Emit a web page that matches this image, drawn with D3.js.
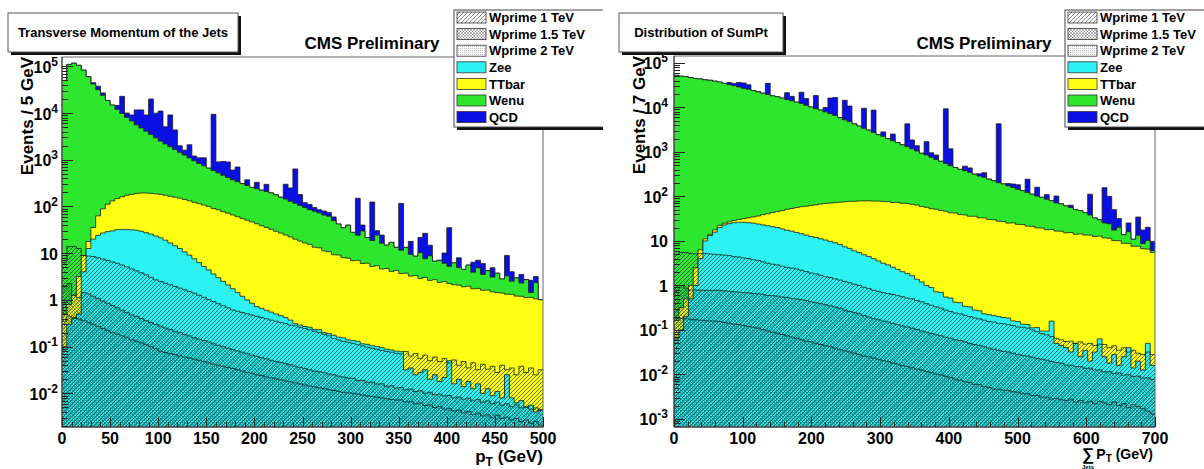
<!DOCTYPE html>
<html>
<head>
<meta charset="utf-8">
<script src="https://cdn.jsdelivr.net/npm/d3@7"></script>
<style>
  body { margin: 0; background: #fff; }
  svg text { font-family: "Liberation Sans", Arial, Helvetica, sans-serif; font-weight: bold; fill: #000; }
</style>
</head>
<body>
<svg id="chart" width="1204" height="469"></svg>
<script>
// ---------- left pad: jet pT, 100 bins of 5 GeV ----------
const jetsZee = [
  0.1, 0.3, 0.4, 0.5, 4, 12.6, 20, 24, 27, 29,
  30, 32, 32, 32, 31.6, 31, 29.5, 27.5, 25.7, 23.4,
  21.4, 19, 16.6, 14.5, 12.6, 10.7, 9.1, 7.6, 6.3, 5.2,
  4.4, 3.6, 3.0, 2.5, 2.1, 1.74, 1.45, 1.2, 1.0, 0.85,
  0.72, 0.66, 0.6, 0.55, 0.5, 0.46, 0.42, 0.37, 0.31, 0.29,
  0.27, 0.26, 0.235, 0.23, 0.2, 0.19, 0.175, 0.16, 0.155, 0.14,
  0.135, 0.13, 0.115, 0.112, 0.105, 0.1, 0.095, 0.088, 0.085, 0.08,
  0.078, 0.032, 0.035, 0.025, 0.028, 0.032, 0.02, 0.025, 0.018, 0.022,
  0.05, 0.016, 0.02, 0.014, 0.018, 0.0126, 0.016, 0.01, 0.0126, 0.0089,
  0.011, 0.008, 0.025, 0.008, 0.0063, 0.007, 0.005, 0.0056, 0.004, 0.0045
];
const jetsTTbar = [
  0.4, 0.5, 0.86, 2.7, 4.9, 5.2, 15.5, 39, 62, 83,
  102, 116, 130, 142, 150, 159, 165, 167, 165, 163,
  160, 155, 149, 144, 138, 130, 123, 115, 109, 102,
  96, 87, 82, 75, 70, 64, 59, 54, 50, 46,
  42, 38, 35, 32, 29, 26.5, 24, 22, 19.7, 17.9,
  16.3, 15.2, 13.2, 12.8, 11.0, 10.6, 9.1, 9.0, 7.9, 7.7,
  6.8, 6.9, 5.9, 6.0, 5.1, 5.3, 4.5, 4.6, 4.0, 4.2,
  3.6, 3.7, 3.2, 3.3, 2.85, 3.0, 2.6, 2.7, 2.35, 2.45,
  2.2, 2.1, 2.05, 1.9, 1.95, 1.72, 1.75, 1.6, 1.62, 1.48,
  1.42, 1.4, 1.3, 1.31, 1.2, 1.19, 1.12, 1.13, 1.05, 1.0
];
const jetsWenu = [
  50000, 110000, 117000, 105000, 83000, 60000, 41700, 31500, 23900, 18500,
  14700, 11850, 9640, 7930, 6620, 5410, 4600, 3900, 3280, 2760,
  2330, 2015, 1740, 1500, 1295, 1120, 965, 830, 717, 634,
  561, 498, 440, 390, 345, 306, 279, 254, 231, 210,
  197, 185, 173, 163, 148, 131, 120, 107, 97, 87,
  79, 70, 66, 60, 54.5, 51, 40.5, 33, 27, 32,
  21, 17.3, 24, 15.5, 13.5, 19, 11.8, 10.2, 13, 9.1,
  7.9, 9.6, 6.2, 5.3, 7.4, 4.6, 6.2, 4.0, 4.7, 3.6,
  3.0, 4.1, 2.9, 2.6, 3.6, 2.2, 3.1, 1.9, 2.6, 1.6,
  2.3, 1.4, 1.95, 1.2, 1.76, 1.1, 1.6, 0.3, 1.3, 0
];
const jetsQCD = [
  0, 0, 0, 0, 0, 0, 3000, 6000, 3000, 0,
  0, 2500, 13000, 1900, 2300, 6100, 6900, 5000, 16500, 7000,
  8500, 2900, 7200, 2700, 550, 340, 1000, 250, 270, 360,
  0, 8800, 375, 450, 480, 230, 360, 0, 90, 0,
  90, 0, 90, 0, 0, 0, 155, 120, 520, 75,
  25, 25, 16, 12, 14, 13, 10, 0, 0, 0,
  0, 126, 10, 0, 106, 6, 8, 0, 0, 0,
  105, 0, 8.5, 0, 11.5, 19, 6, 0, 0, 4,
  30, 0, 3, 0, 0, 2.5, 2.2, 2.5, 0, 1.8,
  0, 0, 5.7, 1.5, 0, 1.2, 0, 1.2, 0.8, 0
];
const jetsW1 = [
  6.3, 14, 14, 12.6, 8.9, 8.7, 8.5, 8.0, 7.5, 7.0,
  6.5, 6.1, 5.6, 5.1, 4.6, 4.2, 3.8, 3.45, 3.05, 2.7,
  2.49, 2.29, 2.11, 1.94, 1.79, 1.65, 1.52, 1.4, 1.26, 1.14,
  1.02, 0.92, 0.83, 0.75, 0.68, 0.61, 0.575, 0.54, 0.505, 0.475,
  0.445, 0.42, 0.395, 0.37, 0.35, 0.33, 0.31, 0.29, 0.28, 0.26,
  0.245, 0.23, 0.215, 0.2, 0.185, 0.17, 0.15, 0.14, 0.13, 0.125,
  0.118, 0.11, 0.104, 0.098, 0.093, 0.088, 0.083, 0.079, 0.076, 0.072,
  0.07, 0.079, 0.063, 0.071, 0.056, 0.066, 0.05, 0.06, 0.048, 0.056,
  0.045, 0.052, 0.04, 0.048, 0.035, 0.045, 0.032, 0.042, 0.033, 0.038,
  0.028, 0.04, 0.032, 0.035, 0.025, 0.038, 0.028, 0.035, 0.025, 0.032
];
const jetsW15 = [
  2.0, 2.24, 1.26, 1.12, 1.45, 1.35, 1.2, 1.07, 0.95, 0.85,
  0.76, 0.68, 0.6, 0.54, 0.48, 0.44, 0.4, 0.36, 0.33, 0.3,
  0.275, 0.25, 0.234, 0.214, 0.2, 0.182, 0.17, 0.155, 0.145, 0.135,
  0.126, 0.115, 0.107, 0.1, 0.093, 0.087, 0.081, 0.076, 0.071, 0.066,
  0.062, 0.058, 0.055, 0.051, 0.048, 0.046, 0.043, 0.041, 0.038, 0.036,
  0.034, 0.032, 0.03, 0.029, 0.0275, 0.026, 0.025, 0.0235, 0.0224, 0.0214,
  0.021, 0.0188, 0.019, 0.0172, 0.0175, 0.0158, 0.016, 0.0142, 0.0145, 0.013,
  0.0133, 0.0119, 0.0124, 0.011, 0.0114, 0.0101, 0.0106, 0.0094, 0.0096, 0.0088,
  0.009, 0.008, 0.0084, 0.0075, 0.0079, 0.0069, 0.0074, 0.0065, 0.0069, 0.006,
  0.0065, 0.0056, 0.006, 0.0052, 0.0057, 0.0049, 0.0052, 0.0046, 0.0049, 0.0043
];
const jetsW2 = [
  0.35, 0.45, 0.42, 0.39, 0.36, 0.33, 0.3, 0.27, 0.245, 0.22,
  0.2, 0.185, 0.17, 0.155, 0.14, 0.13, 0.12, 0.11, 0.1, 0.09,
  0.08, 0.075, 0.071, 0.067, 0.063, 0.06, 0.057, 0.054, 0.051, 0.048,
  0.045, 0.042, 0.04, 0.038, 0.036, 0.034, 0.032, 0.03, 0.028, 0.027,
  0.025, 0.024, 0.0225, 0.0215, 0.0205, 0.0195, 0.0185, 0.0176, 0.0167, 0.0159,
  0.0151, 0.0144, 0.0138, 0.0132, 0.0126, 0.012, 0.0115, 0.011, 0.0105, 0.0102,
  0.01, 0.0096, 0.0092, 0.0089, 0.0086, 0.0083, 0.008, 0.0077, 0.0074, 0.0072,
  0.0072, 0.0066, 0.0067, 0.006, 0.0062, 0.0055, 0.0057, 0.005, 0.0052, 0.0046,
  0.0047, 0.0042, 0.0044, 0.0038, 0.0041, 0.0035, 0.0038, 0.0033, 0.0035, 0.003,
  0.0034, 0.0029, 0.0031, 0.0027, 0.0029, 0.0025, 0.0027, 0.0023, 0.0025, 0.0021
];

// ---------- right pad: sum of jet pT, 100 bins of 7 GeV ----------
const sumZee = [
  0.063, 0.1, 0.2, 0.5, 1.0, 4.0, 10, 13.2, 15.8, 20,
  22.9, 24.5, 25.7, 26.3, 26.3, 25.7, 25.1, 24, 22.9, 21.9,
  20.9, 20, 18.6, 17.4, 16.6, 15.5, 14.5, 13.5, 12.6, 12,
  11.2, 10.5, 9.8, 9.1, 8.3, 7.4, 6.8, 6.0, 5.5, 4.9,
  4.5, 4.0, 3.55, 3.16, 2.9, 2.57, 2.3, 2.04, 1.86, 1.66,
  1.38, 1.2, 1.0, 0.9, 0.72, 0.7, 0.55, 0.52, 0.42, 0.41,
  0.34, 0.33, 0.28, 0.27, 0.23, 0.22, 0.21, 0.2, 0.19, 0.185,
  0.16, 0.155, 0.135, 0.132, 0.112, 0.113, 0.095, 0.094, 0.158, 0.05,
  0.045, 0.04, 0.032, 0.05, 0.025, 0.035, 0.02, 0.032, 0.063, 0.025,
  0.018, 0.028, 0.016, 0.025, 0.04, 0.014, 0.02, 0.0126, 0.05, 0.016
];
const sumTTbar = [
  0.1, 0.22, 0.3, 0.5, 1.5, 2.3, 1.2, 0.9, 2.0, 2.4,
  2.2, 2.4, 3.1, 3.9, 5.3, 7.4, 9.6, 12.3, 16, 18.8,
  22.8, 25.7, 29.3, 33.9, 37.1, 40.7, 44.4, 46.8, 50.5, 52.6,
  56.4, 58.7, 61, 63.3, 65.8, 68.5, 70.8, 71.6, 73.9, 74.5,
  75.5, 74.5, 75, 73.5, 73.5, 70.5, 71, 68, 68, 65,
  62.5, 58, 56, 52, 51, 47.5, 46, 42.5, 42, 38.8,
  38, 35.5, 35.7, 33, 32.8, 30.2, 29.8, 27.5, 27.2, 25,
  25.3, 23.4, 23.2, 21.4, 21.2, 19.5, 19.4, 17.8, 17.9, 16.6,
  16.5, 15.2, 15.4, 14.1, 14.4, 13.5, 13.5, 12.6, 12.8, 11.7,
  11.5, 10.2, 10.1, 8.8, 8.8, 7.6, 7.6, 6.7, 6.5, 5.5
];
const sumWenu = [
  52500, 50100, 49000, 46800, 44700, 43690, 41690, 40690, 38880, 37180,
  34670, 32370, 30870, 28770, 26870, 25670, 23970, 22360, 20860, 19460,
  18160, 17350, 16150, 15050, 14050, 13140, 12240, 11140, 10140, 9265,
  8640, 7870, 7170, 6540, 5815, 5175, 4710, 4190, 3720, 3310,
  3010, 2670, 2370, 2160, 1920, 1710, 1550, 1380, 1250, 1107,
  987, 873, 795, 705, 625, 568, 504, 446, 405, 367,
  342, 311, 281, 254, 237, 214, 195, 176, 164, 148,
  133, 121, 112, 101, 91, 82, 76, 69, 62, 55,
  51.4, 46.2, 41.1, 36.8, 33.8, 29.9, 24.8, 20.2, 16.9, 13.7,
  12.8, 7.3, 10.2, 5.0, 7.3, 3.3, 5.8, 2.0, 3.7, 0.55
];
const sumQCD = [
  0, 0, 0, 0, 0, 0, 0, 0, 0, 0,
  0, 3950, 3770, 7460, 8550, 6660, 0, 0, 0, 15200,
  0, 0, 0, 6240, 3650, 0, 9570, 4630, 0, 9280,
  0, 2060, 8970, 9990, 0, 9200, 5930, 0, 0, 6160,
  0, 5950, 0, 580, 0, 735, 0, 0, 2950, 690,
  330, 0, 850, 200, 175, 0, 8750, 685, 0, 0,
  98, 90, 0, 35, 70, 0, 0, 4070, 0, 21,
  32, 38, 0, 122, 0, 60, 0, 23, 0, 30,
  0, 0, 7, 0, 0, 0, 74, 0, 0, 132,
  76, 33, 11.6, 0, 9.2, 0, 21, 8.9, 10, 3.7
];
const sumW1 = [
  5.0, 5.5, 5.5, 5.25, 5.1, 5.25, 5.25, 5.1, 5.0, 4.9,
  4.8, 4.7, 4.45, 4.35, 4.15, 4.0, 3.8, 3.65, 3.4, 3.16,
  3.0, 2.9, 2.7, 2.55, 2.45, 2.35, 2.2, 2.05, 1.9, 1.82,
  1.7, 1.58, 1.51, 1.41, 1.32, 1.23, 1.15, 1.07, 1.0, 0.91,
  0.85, 0.78, 0.74, 0.69, 0.66, 0.63, 0.59, 0.56, 0.52, 0.5,
  0.46, 0.43, 0.39, 0.36, 0.33, 0.31, 0.28, 0.26, 0.24, 0.23,
  0.214, 0.2, 0.186, 0.178, 0.166, 0.155, 0.151, 0.141, 0.138, 0.132,
  0.126, 0.117, 0.115, 0.11, 0.1, 0.091, 0.083, 0.078, 0.071, 0.065,
  0.06, 0.055, 0.056, 0.05, 0.054, 0.048, 0.05, 0.045, 0.048, 0.047,
  0.04, 0.044, 0.035, 0.04, 0.032, 0.035, 0.03, 0.028, 0.032, 0.028
];
const sumW15 = [
  1.0, 1.0, 0.87, 0.79, 0.79, 0.79, 0.78, 0.78, 0.78, 0.78,
  0.76, 0.74, 0.72, 0.71, 0.69, 0.68, 0.66, 0.65, 0.63, 0.6,
  0.59, 0.575, 0.55, 0.54, 0.51, 0.5, 0.48, 0.46, 0.43, 0.41,
  0.39, 0.37, 0.35, 0.33, 0.31, 0.28, 0.26, 0.245, 0.23, 0.21,
  0.195, 0.18, 0.17, 0.158, 0.151, 0.141, 0.132, 0.123, 0.117, 0.11,
  0.102, 0.095, 0.089, 0.083, 0.078, 0.074, 0.069, 0.065, 0.06, 0.058,
  0.054, 0.05, 0.047, 0.045, 0.042, 0.039, 0.037, 0.035, 0.033, 0.032,
  0.03, 0.028, 0.027, 0.026, 0.0245, 0.023, 0.022, 0.021, 0.0195, 0.0186,
  0.018, 0.0163, 0.0162, 0.015, 0.0152, 0.0138, 0.0139, 0.0126, 0.0127, 0.0114,
  0.0116, 0.0106, 0.0109, 0.0097, 0.0099, 0.009, 0.0092, 0.0083, 0.0084, 0.0077
];
const sumW2 = [
  0.178, 0.182, 0.178, 0.174, 0.17, 0.166, 0.162, 0.158, 0.158, 0.155,
  0.148, 0.141, 0.135, 0.132, 0.126, 0.12, 0.115, 0.11, 0.102, 0.095,
  0.089, 0.085, 0.079, 0.074, 0.069, 0.065, 0.06, 0.056, 0.054, 0.05,
  0.047, 0.044, 0.042, 0.039, 0.036, 0.034, 0.032, 0.03, 0.028, 0.026,
  0.025, 0.0234, 0.0219, 0.0204, 0.0195, 0.0182, 0.017, 0.0158, 0.0151, 0.0141,
  0.0132, 0.0126, 0.0117, 0.011, 0.0102, 0.0098, 0.0091, 0.0085, 0.0079, 0.0074,
  0.0069, 0.0066, 0.006, 0.0059, 0.0053, 0.0051, 0.0047, 0.0047, 0.0044, 0.0044,
  0.0041, 0.004, 0.0037, 0.0037, 0.0034, 0.0034, 0.0031, 0.0031, 0.0028, 0.0029,
  0.0027, 0.0026, 0.0028, 0.0024, 0.0026, 0.0023, 0.0025, 0.0022, 0.0025, 0.0023,
  0.0021, 0.0024, 0.002, 0.0022, 0.0018, 0.0021, 0.0019, 0.0017, 0.0015, 0.0013
];

// ---------- axes and legend text ----------
const jetsXTicks = [0, 50, 100, 150, 200, 250, 300, 350, 400, 450, 500];
const sumXTicks = [0, 100, 200, 300, 400, 500, 600, 700];
const jetsYTicks = [1e-2, 1e-1, 1, 10, 1e2, 1e3, 1e4, 1e5];
const sumYTicks = [1e-3, 1e-2, 1e-1, 1, 10, 1e2, 1e3, 1e4, 1e5];
const legendLabels = ["Wprime 1 TeV", "Wprime 1.5 TeV", "Wprime 2 TeV", "Zee", "TTbar", "Wenu", "QCD"];

const stackKeys = ["zee", "ttbar", "wenu", "qcd"];
const stackColors = { zee: "#2cf2f2", ttbar: "#ffff12", wenu: "#2ee62e", qcd: "#0a10e2" };

const svg = d3.select("#chart");
const defs = svg.append("defs");

// hatch styles that stand in for the ROOT fill patterns
function makePattern(id, size, build) {
  const pat = defs.append("pattern").attr("id", id)
    .attr("patternUnits", "userSpaceOnUse").attr("width", size).attr("height", size);
  build(pat);
}
makePattern("fill-diag", 4, pat => pat.append("path").attr("d", "M-1,1 L1,-1 M0,4 L4,0 M3,5 L5,3")
  .attr("stroke", "#0a2222").attr("stroke-width", 0.6));
makePattern("fill-cross", 3, pat => pat.append("path").attr("d", "M0,0 L3,3 M3,0 L0,3")
  .attr("stroke", "#004848").attr("stroke-width", 0.45).attr("stroke-opacity", 0.75));
makePattern("fill-dots", 2, pat => pat.append("rect").attr("width", 1).attr("height", 1)
  .attr("fill", "#003838").attr("opacity", 0.25));
// legend swatches use neutral greys
makePattern("leg-diag", 4, pat => pat.append("path").attr("d", "M-1,1 L1,-1 M0,4 L4,0 M3,5 L5,3")
  .attr("stroke", "#333").attr("stroke-width", 0.6));
makePattern("leg-cross", 3, pat => pat.append("path").attr("d", "M0,0 L3,3 M3,0 L0,3")
  .attr("stroke", "#333").attr("stroke-width", 0.45).attr("stroke-opacity", 0.8));
makePattern("leg-dots", 2, pat => pat.append("rect").attr("width", 1).attr("height", 1)
  .attr("fill", "#333").attr("opacity", 0.35));

const overlayFills = ["url(#fill-diag)", "url(#fill-cross)", "url(#fill-dots)"];
const legendFills = ["url(#leg-diag)", "url(#leg-cross)", "url(#leg-dots)",
  stackColors.zee, stackColors.ttbar, stackColors.wenu, stackColors.qcd];

function supLabel(sel, v) {
  const e = Math.round(Math.log10(v));
  if (e === 0) { sel.text("1"); return; }
  if (e === 1) { sel.text("10"); return; }
  sel.append("tspan").text("10");
  sel.append("tspan").attr("dy", -7).attr("font-size", 12).text(e);
}

function drawPanel(p) {
  const g = svg.append("g");
  defs.append("clipPath").attr("id", "pad-" + p.id)
    .append("rect").attr("x", p.padX0).attr("y", 0).attr("width", p.padX1 - p.padX0).attr("height", 469);
  g.attr("clip-path", `url(#pad-${p.id})`);

  const x = d3.scaleLinear().domain([0, p.xMax]).range([p.left, p.right]);
  const y = d3.scaleLog().domain([p.yMin, p.yMax]).range([p.bottom, p.top]).clamp(true);
  const nb = p.zee.length;
  const bw = p.xMax / nb;

  const rows = d3.range(nb).map(i => ({ zee: p.zee[i], ttbar: p.ttbar[i], wenu: p.wenu[i], qcd: p.qcd[i] }));
  const stacked = d3.stack().keys(stackKeys)(rows);

  const steps = vals => vals.flatMap((v, i) => [[i * bw, v], [(i + 1) * bw, v]]);
  const area = d3.area().x(d => x(d[0])).y0(p.bottom).y1(d => y(Math.max(d[1], p.yMin)));
  const line = d3.line().x(d => x(d[0])).y(d => y(Math.max(d[1], p.yMin)));

  defs.append("clipPath").attr("id", "frame-" + p.id)
    .append("rect").attr("x", p.left).attr("y", p.top).attr("width", p.right - p.left).attr("height", p.bottom - p.top);
  const plot = g.append("g").attr("clip-path", `url(#frame-${p.id})`);

  // stack: the tallest cumulative histogram first, like THStack
  stacked.slice().reverse().forEach(layer => {
    const pts = steps(layer.map(d => d[1]));
    plot.append("path").attr("d", area(pts)).attr("fill", stackColors[layer.key]);
    plot.append("path").attr("d", line(pts)).attr("fill", "none")
      .attr("stroke", "#1c1c1c").attr("stroke-width", 0.8);
  });

  // signal samples overlaid with hatch fills
  [p.w1, p.w15, p.w2].forEach((vals, k) => {
    const pts = steps(vals);
    plot.append("path").attr("d", area(pts)).attr("fill", overlayFills[k]);
    plot.append("path").attr("d", line(pts)).attr("fill", "none")
      .attr("stroke", "#102a2a").attr("stroke-width", 0.8);
  });

  // frame
  g.append("rect").attr("x", p.left).attr("y", p.top)
    .attr("width", p.right - p.left).attr("height", p.bottom - p.top)
    .attr("fill", "none").attr("stroke", "#666").attr("stroke-width", 1);

  // y ticks (log, drawn inside the frame)
  const lo = Math.floor(Math.log10(p.yMin)), hi = Math.ceil(Math.log10(p.yMax));
  for (let e = lo; e <= hi; e++) {
    for (let m = 1; m <= 9; m++) {
      const v = m * Math.pow(10, e);
      if (v < p.yMin || v > p.yMax) continue;
      const yy = Math.round(y(v)) + 0.5;
      g.append("line").attr("x1", p.left).attr("x2", p.left + (m === 1 ? 11 : 6))
        .attr("y1", yy).attr("y2", yy).attr("stroke", "#222").attr("stroke-width", 1);
    }
  }
  p.yTicks.forEach(v => {
    g.append("text").attr("x", p.left - p.yLabelGap).attr("y", y(v) + 6.5)
      .attr("text-anchor", "end").attr("font-size", 16).call(supLabel, v);
  });

  // x ticks
  d3.range(0, p.xMax + 0.001, p.xMinor).forEach(v => {
    const major = Math.abs(v / p.xMajor - Math.round(v / p.xMajor)) < 1e-6;
    const xx = Math.round(x(v)) + 0.5;
    g.append("line").attr("x1", xx).attr("x2", xx)
      .attr("y1", p.bottom).attr("y2", p.bottom - (major ? 10 : 5))
      .attr("stroke", "#222").attr("stroke-width", 1);
  });
  p.xTicks.forEach(v => {
    g.append("text").attr("x", x(v)).attr("y", p.bottom + 17)
      .attr("text-anchor", "middle").attr("font-size", 16).text(v);
  });

  // axis lines
  g.append("line").attr("x1", p.left).attr("x2", p.left).attr("y1", p.top).attr("y2", p.bottom)
    .attr("stroke", "#333").attr("stroke-width", 1);
  g.append("line").attr("x1", p.left).attr("x2", p.right).attr("y1", p.bottom).attr("y2", p.bottom)
    .attr("stroke", "#333").attr("stroke-width", 1);

  // y title
  g.append("text").attr("transform", `translate(${p.yTitleX},${p.top}) rotate(-90)`)
    .attr("text-anchor", "end").attr("font-size", 17).text(p.yTitle);

  // title box
  g.append("rect").attr("x", p.titleBox[0] + 3).attr("y", p.titleBox[1] + 3)
    .attr("width", p.titleBox[2]).attr("height", p.titleBox[3]).attr("fill", "#111");
  g.append("rect").attr("x", p.titleBox[0]).attr("y", p.titleBox[1])
    .attr("width", p.titleBox[2]).attr("height", p.titleBox[3])
    .attr("fill", "#fff").attr("stroke", "#555").attr("stroke-width", 1);
  g.append("text").attr("x", p.titleBox[0] + p.titleBox[2] / 2).attr("y", p.titleBox[1] + 24)
    .attr("text-anchor", "middle").attr("font-size", 13).text(p.title);

  g.append("text").attr("x", p.left + 310).attr("y", 48.5)
    .attr("text-anchor", "middle").attr("font-size", 17).text("CMS Preliminary");

  // legend
  const lx = p.legendX, ly = 10, lw = 150, lh = 117;
  g.append("rect").attr("x", lx + 3).attr("y", ly + 3).attr("width", lw).attr("height", lh).attr("fill", "#111");
  g.append("rect").attr("x", lx).attr("y", ly).attr("width", lw).attr("height", lh)
    .attr("fill", "#fff").attr("stroke", "#444").attr("stroke-width", 1);
  legendLabels.forEach((lab, i) => {
    const cy = ly + 7.5 + i * 16.6;
    g.append("rect").attr("x", lx + 3).attr("y", cy - 5.5).attr("width", 29).attr("height", 11)
      .attr("fill", legendFills[i]).attr("stroke", "#333").attr("stroke-width", 0.8);
    g.append("text").attr("x", lx + 35).attr("y", cy + 4.6).attr("font-size", 13).text(lab);
  });

  p.xTitle(g);
}

drawPanel({
  id: "jets", padX0: 0, padX1: 603,
  left: 62, right: 543, top: 57, bottom: 427,
  xMax: 500, xMajor: 50, xMinor: 10, xTicks: jetsXTicks,
  yMin: Math.pow(10, -2.72), yMax: Math.pow(10, 5.2), yTicks: jetsYTicks, yLabelGap: 4,
  zee: jetsZee, ttbar: jetsTTbar, wenu: jetsWenu, qcd: jetsQCD,
  w1: jetsW1, w15: jetsW15, w2: jetsW2,
  yTitle: "Events / 5 GeV", yTitleX: 33,
  title: "Transverse Momentum of the Jets", titleBox: [8, 13, 230, 39],
  legendX: 454,
  xTitle: g => {
    const t = g.append("text").attr("x", 543).attr("y", 462).attr("text-anchor", "end").attr("font-size", 17);
    t.append("tspan").text("p");
    t.append("tspan").attr("dy", 4).attr("font-size", 12).text("T");
    t.append("tspan").attr("dy", -4).text(" (GeV)");
  }
});

drawPanel({
  id: "sum", padX0: 602, padX1: 1204,
  left: 674, right: 1155, top: 56, bottom: 427,
  xMax: 700, xMajor: 100, xMinor: 20, xTicks: sumXTicks,
  yMin: Math.pow(10, -3.18), yMax: Math.pow(10, 5.155), yTicks: sumYTicks, yLabelGap: 6,
  zee: sumZee, ttbar: sumTTbar, wenu: sumWenu, qcd: sumQCD,
  w1: sumW1, w15: sumW15, w2: sumW2,
  yTitle: "Events / 7 GeV", yTitleX: 645,
  title: "Distribution of SumPt", titleBox: [619, 13, 164, 39],
  legendX: 1065,
  xTitle: g => {
    g.append("text").attr("x", 1088).attr("y", 460).attr("text-anchor", "middle")
      .attr("font-size", 17).attr("font-weight", "normal").text("\u2211");
    g.append("text").attr("x", 1088).attr("y", 469).attr("text-anchor", "middle")
      .attr("font-size", 6).text("Jets");
    const t = g.append("text").attr("x", 1153).attr("y", 459).attr("text-anchor", "end").attr("font-size", 14);
    t.append("tspan").text("P");
    t.append("tspan").attr("dy", 3).attr("font-size", 10).text("T");
    t.append("tspan").attr("dy", -3).text(" (GeV)");
  }
});
</script>
</body>
</html>
